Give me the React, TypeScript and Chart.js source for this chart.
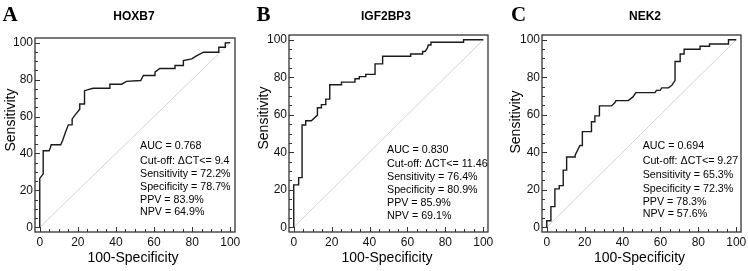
import React, { useEffect, useRef } from "react";
import { Chart, registerables } from "chart.js";

Chart.register(...registerables);

// ---- Data ----
const hoxb7Fpr = [0, 0, 1.8, 1.8, 4.9, 5.5, 6, 11, 12, 13.5, 15, 17, 17, 19, 21, 21, 23.5, 23.5, 28, 36.8, 36.8, 43, 45.5, 53, 54.4, 60.5, 60.5, 63, 71, 71, 75.4, 75.4, 79.8, 82.5, 86, 94, 94, 97.4, 97.4, 100];
const hoxb7Sens = [0, 26.5, 29, 41.5, 41.5, 43, 44.7, 44.7, 47, 51.5, 55.5, 55.5, 58.7, 61.4, 64, 66.8, 66.8, 74, 75.3, 75.3, 77.5, 77.5, 79, 79.5, 82.2, 82.2, 84, 86, 86, 87.6, 87.6, 90.3, 91.2, 93, 94.8, 94.8, 97.5, 97.5, 99.8, 100];

const igf2bp3Fpr = [0, 0, 2.6, 2.6, 4.4, 4.4, 6.3, 6.3, 9.3, 12.5, 12.5, 14.6, 14.6, 16.9, 16.9, 19, 19, 25.2, 25.2, 32.3, 32.3, 34.6, 34.6, 38, 38, 42.9, 42.9, 46.9, 46.9, 61.7, 61.7, 68, 68, 69.3, 70.5, 71, 72.4, 72.4, 89.6, 89.6, 100];
const igf2bp3Sens = [0, 22.6, 22.6, 26.5, 26.5, 54.5, 54.5, 56.8, 56.8, 59.8, 63.7, 63.7, 65.4, 65.4, 68.3, 68.3, 76, 76, 77.4, 77.4, 79.2, 79.2, 80.3, 80.3, 81.5, 81.5, 87.1, 87.1, 91.2, 91.2, 92.4, 92.4, 93.7, 93.7, 95.5, 97.2, 97.2, 98.6, 98.6, 100, 100];

const nek2Fpr = [0, 0, 2.2, 2.2, 4.3, 4.3, 6.6, 6.6, 8.7, 8.7, 10.5, 10.5, 15, 15, 17.5, 18.8, 18.8, 23.6, 23.6, 25.4, 25.4, 27.8, 27.8, 34.2, 36, 36.5, 43, 45.5, 47, 57.1, 57.9, 59.8, 60.7, 64.2, 66, 67.7, 67.7, 70.4, 70.4, 72.5, 72.5, 80.9, 80.9, 85.9, 85.9, 95.9, 95.9, 100];
const nek2Sens = [0, 3.5, 3.5, 11, 11, 20.5, 20.5, 22.2, 22.2, 30.5, 30.5, 37.5, 37.5, 38.5, 43.6, 43.6, 51, 51, 56.3, 56.3, 59.4, 59.4, 64.7, 64.7, 66.5, 67.5, 67.5, 69.5, 71.8, 71.8, 73, 73, 74.3, 74.3, 75.7, 78.3, 88.4, 88.4, 92.4, 92.4, 94.9, 94.9, 96.5, 96.5, 97.7, 97.7, 100, 100];

const diagonalX = [0, 100];
const diagonalY = [0, 100];

const majorTicks = [0, 20, 40, 60, 80, 100];
const minorTicks = [5, 10, 15, 25, 30, 35, 45, 50, 55, 65, 70, 75, 85, 90, 95];

const hoxb7Stats = ["AUC = 0.768", "Cut-off: \u0394CT<= 9.4", "Sensitivity = 72.2%", "Specificity = 78.7%", "PPV = 83.9%", "NPV = 64.9%"];
const igf2bp3Stats = ["AUC = 0.830", "Cut-off: \u0394CT<= 11.46", "Sensitivity = 76.4%", "Specificity = 80.9%", "PPV = 85.9%", "NPV = 69.1%"];
const nek2Stats = ["AUC = 0.694", "Cut-off: \u0394CT<= 9.27", "Sensitivity = 65.3%", "Specificity = 72.3%", "PPV = 78.3%", "NPV = 57.6%"];

const xAxisTitle = "100-Specificity";
const yAxisTitle = "Sensitivity";

// ---- Layout ----
const H = 271;
const SANS = "'Liberation Sans', Arial, sans-serif";
const SERIF = "'Liberation Serif', 'Times New Roman', serif";

type Layout = {
  left: number; width: number;
  area: { l: number; r: number; t: number; b: number };
  letterX: number; titleX: number; titleY: number;
  yTitleX: number; yTitleY: number; xTitleX: number; xTitleY: number;
  statX: number; statY: number[];
};

type Panel = { letter: string; title: string; fpr: number[]; sens: number[]; stats: string[]; layout: Layout };

const panels: Panel[] = [
  {
    letter: "A", title: "HOXB7", fpr: hoxb7Fpr, sens: hoxb7Sens, stats: hoxb7Stats,
    layout: { left: 0, width: 250, area: { l: 35, r: 235, t: 38, b: 232 }, letterX: 2.5, titleX: 134, titleY: 17,
      yTitleX: 11, yTitleY: 120, xTitleX: 133, xTitleY: 258, statX: 140, statY: [146, 161, 174, 187, 200, 212.5] },
  },
  {
    letter: "B", title: "IGF2BP3", fpr: igf2bp3Fpr, sens: igf2bp3Sens, stats: igf2bp3Stats,
    layout: { left: 250, width: 250, area: { l: 39, r: 238, t: 35, b: 232 }, letterX: 6.5, titleX: 136, titleY: 17,
      yTitleX: 14.5, yTitleY: 118, xTitleX: 137, xTitleY: 258, statX: 137, statY: [150, 164, 177, 190, 203, 216] },
  },
  {
    letter: "C", title: "NEK2", fpr: nek2Fpr, sens: nek2Sens, stats: nek2Stats,
    layout: { left: 500, width: 248, area: { l: 42, r: 241, t: 35, b: 232 }, letterX: 11, titleX: 145, titleY: 17,
      yTitleX: 16, yTitleY: 122, xTitleX: 139.5, xTitleY: 258, statX: 142.7, statY: [146, 161, 175, 189, 202, 214] },
  },
];

function makeDeco(panel: Panel) {
  return {
    id: "rocDeco" + panel.letter,
    afterDraw(chart: any) {
      const ctx = chart.ctx as CanvasRenderingContext2D;
      const a = chart.chartArea;
      const xs = chart.scales.x;
      const ys = chart.scales.y;
      const L = panel.layout;
      ctx.save();
      // frame
      ctx.strokeStyle = "#333";
      ctx.lineWidth = 1.3;
      ctx.strokeRect(a.left, a.top, a.right - a.left, a.bottom - a.top);
      // ticks (inward)
      ctx.lineWidth = 1;
      ctx.strokeStyle = "#333";
      const drawTicks = (vals: number[], len: number) => {
        ctx.beginPath();
        vals.forEach((v) => {
          const px = Math.round(xs.getPixelForValue(v)) + 0.5;
          ctx.moveTo(px, a.bottom);
          ctx.lineTo(px, a.bottom - len);
          const py = Math.round(ys.getPixelForValue(v)) + 0.5;
          ctx.moveTo(a.left, py);
          ctx.lineTo(a.left + len, py);
        });
        ctx.stroke();
      };
      drawTicks(majorTicks, 5);
      drawTicks(minorTicks, 3);

      ctx.fillStyle = "#000";
      // panel letter
      ctx.font = `bold 21px ${SERIF}`;
      ctx.textAlign = "left";
      ctx.textBaseline = "alphabetic";
      ctx.fillText(panel.letter, L.letterX, 20.5);
      // title
      ctx.font = `bold 12px ${SANS}`;
      ctx.textAlign = "center";
      ctx.textBaseline = "middle";
      ctx.fillText(panel.title, L.titleX, L.titleY);
      // axis titles
      ctx.font = `14px ${SANS}`;
      ctx.fillText(xAxisTitle, L.xTitleX, L.xTitleY);
      ctx.save();
      ctx.translate(L.yTitleX, L.yTitleY);
      ctx.rotate(-Math.PI / 2);
      ctx.fillText(yAxisTitle, 0, 0);
      ctx.restore();
      // stats
      ctx.font = `10.7px ${SANS}`;
      ctx.textAlign = "left";
      panel.stats.forEach((s, i) => ctx.fillText(s, L.statX, L.statY[i]));
      ctx.restore();
    },
  };
}

function RocPanel({ panel }: { panel: Panel }) {
  const ref = useRef<HTMLCanvasElement>(null);
  const L = panel.layout;
  useEffect(() => {
    if (!ref.current) return;
    const tickFont = { family: SANS, size: 12 };
    const chart = new Chart(ref.current, {
      type: "scatter",
      data: {
        datasets: [
          {
            data: panel.fpr.map((x, i) => ({ x, y: panel.sens[i] })),
            showLine: true,
            borderColor: "#1a1a1a",
            borderWidth: 1.4,
            pointRadius: 0,
            tension: 0,
          },
          {
            data: diagonalX.map((x, i) => ({ x, y: diagonalY[i] })),
            showLine: true,
            borderColor: "#cfcfcf",
            borderWidth: 0.9,
            pointRadius: 0,
          },
        ],
      },
      options: {
        responsive: false,
        animation: false,
        devicePixelRatio: 1,
        events: [],
        layout: { padding: { left: 0, right: L.width - L.area.r, top: L.area.t, bottom: 0 } },
        plugins: { legend: { display: false }, tooltip: { enabled: false }, title: { display: false } },
        scales: {
          x: {
            type: "linear",
            min: -2.5,
            max: 102.5,
            grid: { display: false, drawTicks: false },
            border: { display: false },
            ticks: { padding: 3, font: tickFont, color: "#111", maxRotation: 0, autoSkip: false },
            afterBuildTicks: (s: any) => {
              s.ticks = majorTicks.map((v) => ({ value: v }));
            },
            afterFit: (s: any) => {
              s.height = H - L.area.b;
              s.paddingLeft = 0;
              s.paddingRight = 0;
            },
          },
          y: {
            type: "linear",
            min: -2.5,
            max: 102.5,
            grid: { display: false, drawTicks: false },
            border: { display: false },
            ticks: { padding: 2, font: tickFont, color: "#111", autoSkip: false },
            afterBuildTicks: (s: any) => {
              s.ticks = majorTicks.map((v) => ({ value: v }));
            },
            afterFit: (s: any) => {
              s.width = L.area.l;
              s.paddingTop = 0;
              s.paddingBottom = 0;
            },
          },
        },
      } as any,
      plugins: [makeDeco(panel)],
    });
    return () => chart.destroy();
  }, [panel]);
  return (
    <canvas
      ref={ref}
      width={L.width}
      height={H}
      style={{ position: "absolute", left: L.left, top: 0, width: L.width, height: H }}
    />
  );
}

export default function App() {
  return (
    <div style={{ position: "absolute", left: 0, top: 0, width: 748, height: H, background: "#fff" }}>
      {panels.map((p) => (
        <RocPanel key={p.letter} panel={p} />
      ))}
    </div>
  );
}
